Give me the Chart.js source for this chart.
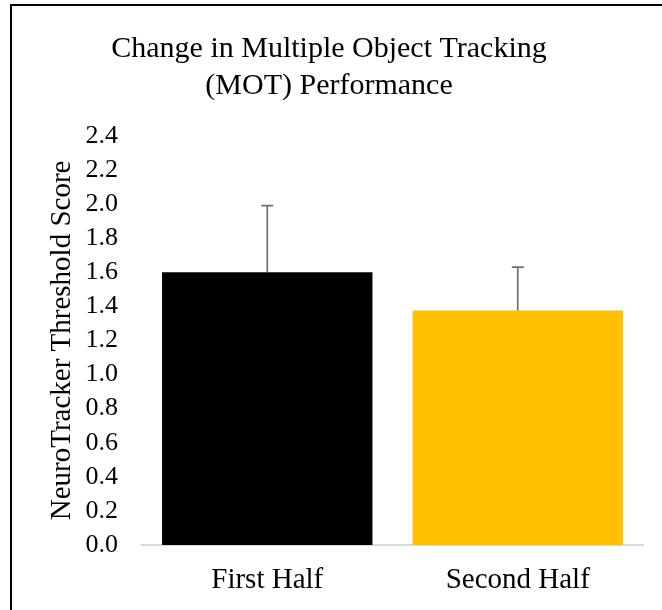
<!DOCTYPE html>
<html>
<head>
<meta charset="utf-8">
<script src="https://cdn.jsdelivr.net/npm/chart.js@4"></script>
<style>
  body { margin: 0; background: #fff; }
  #frame { position: absolute; left: 10px; top: 4px; width: 700px; height: 700px;
           border-top: 2px solid #000; border-left: 2px solid #000; }
  #chart { position: absolute; left: 0; top: 0; }
</style>
</head>
<body>
<div id="frame"></div>
<canvas id="chart" width="662" height="610"></canvas>
<script>
const categories = ['First Half', 'Second Half'];
const scores = [1.60, 1.375];
const errors = [0.39, 0.255];
const barColors = ['#000000', '#FFC000'];
const yTicks = [0, 0.2, 0.4, 0.6, 0.8, 1.0, 1.2, 1.4, 1.6, 1.8, 2.0, 2.2, 2.4];

const serif = 'Liberation Serif';

// upward error bars, drawn from the bar top via the y scale
const errorBars = {
  id: 'errorBars',
  afterDatasetsDraw(chart) {
    const ctx = chart.ctx;
    const y = chart.scales.y;
    const meta = chart.getDatasetMeta(0);
    ctx.save();
    ctx.strokeStyle = '#6f6f6f';
    ctx.lineWidth = 1.7;
    meta.data.forEach((bar, i) => {
      const top = y.getPixelForValue(scores[i]);
      const end = y.getPixelForValue(scores[i] + errors[i]);
      ctx.beginPath();
      ctx.moveTo(bar.x, top);
      ctx.lineTo(bar.x, end);
      ctx.moveTo(bar.x - 6, end);
      ctx.lineTo(bar.x + 6, end);
      ctx.stroke();
    });
    ctx.restore();
  }
};

new Chart(document.getElementById('chart'), {
  type: 'bar',
  data: {
    labels: categories,
    datasets: [{
      data: scores,
      backgroundColor: barColors,
      borderWidth: 0,
      categoryPercentage: 1,
      barPercentage: 0.84
    }]
  },
  options: {
    responsive: false,
    animation: false,
    layout: { padding: { left: 15, right: 19, top: 0, bottom: 0 } },
    plugins: {
      legend: { display: false },
      tooltip: { enabled: false },
      title: {
        display: true,
        text: ['Change in Multiple Object Tracking', '(MOT) Performance'],
        color: '#000',
        font: { family: serif, size: 30, weight: 'normal', lineHeight: 1.23 },
        padding: { top: 31, bottom: 31 }
      }
    },
    scales: {
      x: {
        afterFit: scale => { scale.height = 65; },
        grid: { display: false, drawTicks: false },
        border: { color: '#d9d9d9', width: 2 },
        ticks: { color: '#000', padding: 18, autoSkip: false, font: { family: serif, size: 29 } }
      },
      y: {
        min: 0,
        max: 2.4,
        afterBuildTicks: scale => { scale.ticks = yTicks.map(v => ({ value: v })); },
        afterFit: scale => { scale.width = 127; },
        grid: { display: false, drawTicks: false },
        border: { display: false },
        ticks: {
          color: '#000',
          padding: 24,
          autoSkip: false,
          font: { family: serif, size: 26 },
          callback: v => Number(v).toFixed(1)
        },
        title: {
          display: true,
          text: 'NeuroTracker Threshold Score',
          color: '#000',
          font: { family: serif, size: 29 },
          padding: { top: 30, bottom: 0 }
        }
      }
    }
  },
  plugins: [errorBars]
});
</script>
</body>
</html>
